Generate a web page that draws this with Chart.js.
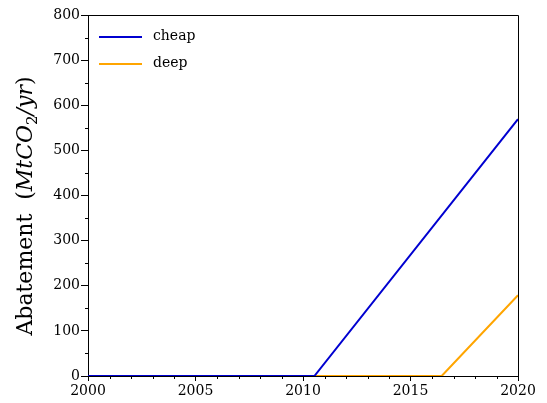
<!DOCTYPE html>
<html>
<head>
<meta charset="utf-8">
<script src="https://cdn.jsdelivr.net/npm/chart.js@4/dist/chart.umd.min.js"></script>
<style>
  html, body { margin: 0; padding: 0; background: #fff; }
  #wrap { width: 547px; height: 403px; }
</style>
</head>
<body>
<div id="wrap"><canvas id="abatement"></canvas></div>
<script>
// values
const seriesNames = ['cheap', 'deep'];
const seriesColors = ['#0000d0', '#ffa500'];
const cheapYears = [2000, 2010.53, 2020];
const cheapValues = [0, 0, 569];
const deepYears = [2000, 2016.45, 2020];
const deepValues = [0, 0, 179];
const xMajorTicks = [2000, 2005, 2010, 2015, 2020];
const yMajorTicks = [0, 100, 200, 300, 400, 500, 600, 700, 800];

const serif = "'DejaVu Serif', 'Liberation Serif', serif";

function toPoints(xs, ys) {
    return xs.map((x, i) => ({ x: x, y: ys[i] }));
}

// minor ticks, frame, legend and the mixed-style y title
const decorations = {
    id: 'decorations',
    afterDraw(chart) {
        const ctx = chart.ctx;
        const area = chart.chartArea;
        const xs = chart.scales.x;
        const ys = chart.scales.y;
        ctx.save();
        ctx.strokeStyle = '#000';
        ctx.lineWidth = 1;

        // minor ticks
        ctx.beginPath();
        for (let yr = xs.min; yr <= xs.max; yr++) {
            if (yr % 5 === 0) continue;
            const px = Math.round(xs.getPixelForValue(yr)) + 0.5;
            ctx.moveTo(px, area.bottom);
            ctx.lineTo(px, area.bottom + 3);
        }
        for (let v = 50; v < ys.max; v += 100) {
            const py = Math.round(ys.getPixelForValue(v)) + 0.5;
            ctx.moveTo(area.left, py);
            ctx.lineTo(area.left - 3, py);
        }
        ctx.stroke();

        // frame on top and right
        ctx.beginPath();
        ctx.moveTo(area.left, area.top + 0.5);
        ctx.lineTo(area.right + 0.5, area.top + 0.5);
        ctx.lineTo(area.right + 0.5, area.bottom);
        ctx.stroke();

        // legend inside the plot, top left
        chart.data.datasets.forEach((ds, i) => {
            const y = area.top + 22 + i * 27;
            ctx.strokeStyle = ds.borderColor;
            ctx.lineWidth = 2;
            ctx.beginPath();
            ctx.moveTo(area.left + 11, y);
            ctx.lineTo(area.left + 54, y);
            ctx.stroke();
            ctx.fillStyle = '#000';
            ctx.font = '14px ' + serif;
            ctx.textBaseline = 'middle';
            ctx.textAlign = 'left';
            ctx.fillText(ds.label, area.left + 65, y - 1);
        });

        // y title: Abatement (MtCO2/yr) with math italic part
        const size = 22;
        const parts = [
            { t: 'Abatement  (', f: size + 'px ' + serif, dy: 0 },
            { t: 'MtCO', f: 'italic ' + size + 'px ' + serif, dy: 0 },
            { t: '2', f: Math.round(size * 0.7) + 'px ' + serif, dy: 5 },
            { t: '/yr', f: 'italic ' + size + 'px ' + serif, dy: 0 },
            { t: ')', f: size + 'px ' + serif, dy: 0 }
        ];
        let total = 0;
        parts.forEach(p => { ctx.font = p.f; p.w = ctx.measureText(p.t).width; total += p.w; });
        ctx.translate(32, 206);
        ctx.rotate(-Math.PI / 2);
        ctx.fillStyle = '#000';
        ctx.textBaseline = 'alphabetic';
        ctx.textAlign = 'left';
        let x = -total / 2;
        parts.forEach(p => {
            ctx.font = p.f;
            ctx.fillText(p.t, x, p.dy);
            x += p.w;
        });
        ctx.restore();
    }
};

new Chart(document.getElementById('abatement'), {
    type: 'line',
    data: {
        datasets: [
            {
                label: seriesNames[0],
                data: toPoints(cheapYears, cheapValues),
                borderColor: seriesColors[0],
                borderWidth: 2,
                pointRadius: 0,
                tension: 0
            },
            {
                label: seriesNames[1],
                data: toPoints(deepYears, deepValues),
                borderColor: seriesColors[1],
                borderWidth: 2,
                pointRadius: 0,
                tension: 0
            }
        ]
    },
    options: {
        responsive: true,
        maintainAspectRatio: false,
        animation: false,
        layout: { padding: { top: 15, right: 29, left: 0, bottom: 0 } },
        plugins: {
            legend: { display: false },
            tooltip: { enabled: false }
        },
        scales: {
            x: {
                type: 'linear',
                min: 2000,
                max: 2020,
                afterFit: s => { s.height = 27; },
                afterBuildTicks: s => { s.ticks = xMajorTicks.map(v => ({ value: v })); },
                ticks: {
                    color: '#000',
                    font: { family: serif, size: 14 },
                    padding: 2,
                    maxRotation: 0,
                    callback: v => String(v)
                },
                grid: { drawOnChartArea: false, drawTicks: true, tickLength: 5, color: '#000' },
                border: { color: '#000', width: 1 }
            },
            y: {
                min: 0,
                max: 800,
                afterFit: s => { s.width = 88; },
                afterBuildTicks: s => { s.ticks = yMajorTicks.map(v => ({ value: v })); },
                ticks: {
                    color: '#000',
                    font: { family: serif, size: 14 },
                    padding: 1
                },
                grid: { drawOnChartArea: false, drawTicks: true, tickLength: 7, color: '#000' },
                border: { color: '#000', width: 1 }
            }
        }
    },
    plugins: [decorations]
});
</script>
</body>
</html>
